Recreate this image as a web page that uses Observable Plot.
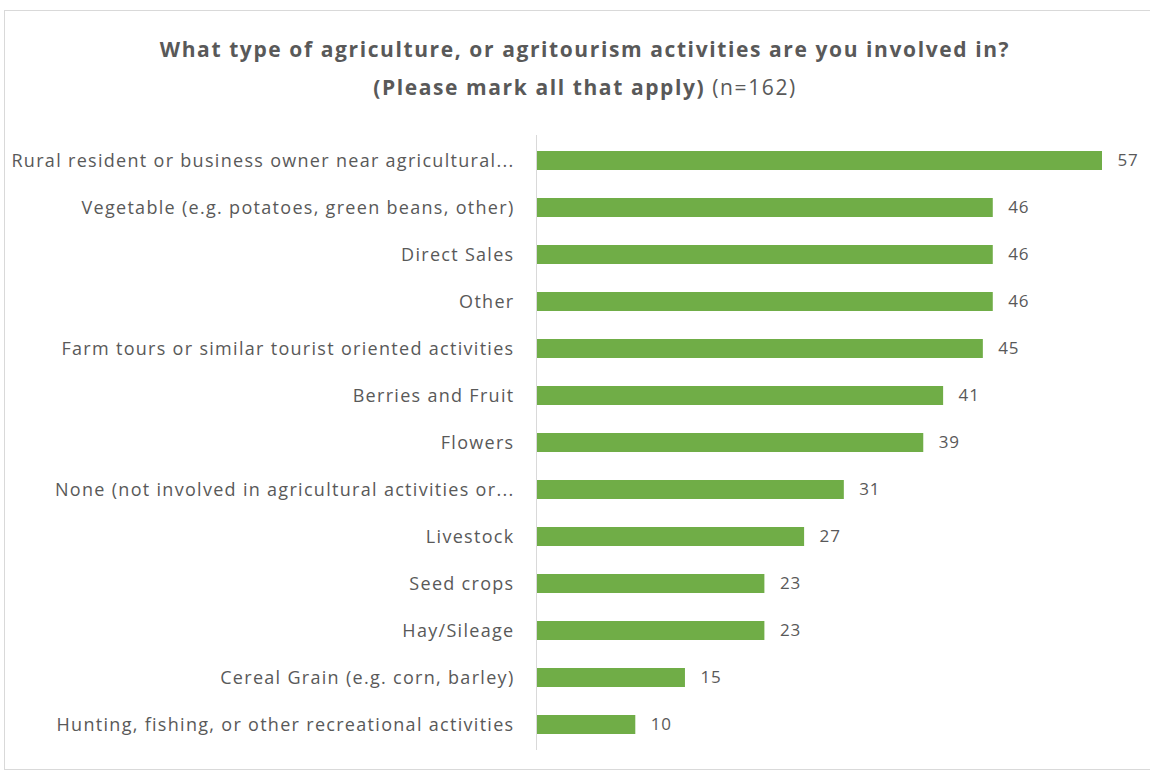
<!DOCTYPE html>
<html>
<head>
<meta charset="utf-8">
<script src="https://cdn.jsdelivr.net/npm/d3@7"></script>
<script src="https://cdn.jsdelivr.net/npm/@observablehq/plot@0.6"></script>
<style>
  html, body { margin: 0; padding: 0; background: #fff; }
  #wrap { position: relative; width: 1150px; height: 774px; overflow: hidden; font-family: "Open Sans", sans-serif; }
  #frame { position: absolute; left: 4px; top: 10px; width: 1160px; height: 760px; border: 1px solid #d9d9d9; box-sizing: border-box; }
  #title { position: absolute; left: 0; width: 1170px; top: 30px; text-align: center; color: #595959; font-size: 21px; line-height: 38px; font-weight: 700; letter-spacing: 1.6px; }
  #title .n { font-weight: 400; }
  #chart { position: absolute; left: 0; top: 0; }
  #chart g[aria-label="y-axis tick label"] text { letter-spacing: 1.3px; }
  #chart g[aria-label="text"] text { letter-spacing: 0.8px; }
</style>
</head>
<body>
<div id="wrap">
  <div id="frame"></div>
  <div id="title">What type of agriculture, or agritourism activities are you involved in?<br>(Please mark all that apply) <span class="n">(n=162)</span></div>
  <div id="chart"></div>
</div>
<script>
const categories = [
  "Rural resident or business owner near agricultural...",
  "Vegetable (e.g. potatoes, green beans, other)",
  "Direct Sales",
  "Other",
  "Farm tours or similar tourist oriented activities",
  "Berries and Fruit",
  "Flowers",
  "None (not involved in agricultural activities or...",
  "Livestock",
  "Seed crops",
  "Hay/Sileage",
  "Cereal Grain (e.g. corn, barley)",
  "Hunting, fishing, or other recreational activities"
];
const values = [57, 46, 46, 46, 45, 41, 39, 31, 27, 23, 23, 15, 10];

const data = categories.map((c, i) => ({category: c, value: values[i]}));

const plot = Plot.plot({
  width: 1150,
  height: 774,
  marginLeft: 536,
  marginRight: 48,
  marginTop: 135,
  marginBottom: 24,
  style: {fontFamily: "Open Sans, sans-serif", color: "#595959", background: "transparent"},
  x: {domain: [0, 57], axis: null},
  y: {domain: categories, paddingInner: 0.6, paddingOuter: 0.3, label: null},
  marks: [
    Plot.barX(data, {x: "value", y: "category", fill: "#70AD47"}),
    Plot.ruleX([0], {stroke: "#d9d9d9", strokeWidth: 1}),
    Plot.text(data, {x: "value", y: "category", text: d => String(d.value), textAnchor: "start", dx: 15, fontSize: 17, fill: "#595959"}),
    Plot.axisY({tickSize: 0, tickPadding: 22, fontSize: 18, label: null, fill: "#595959"})
  ]
});
document.getElementById("chart").appendChild(plot);
</script>
</body>
</html>
